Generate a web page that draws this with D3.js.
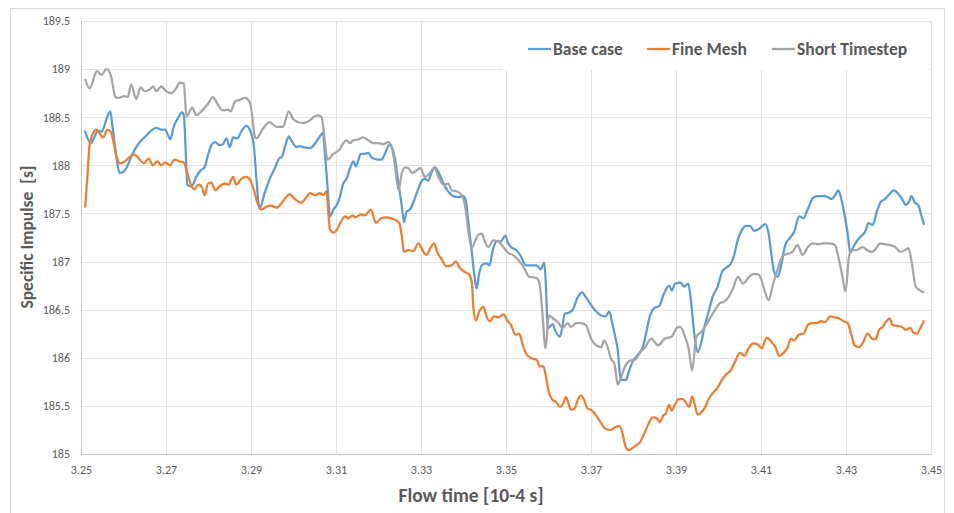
<!DOCTYPE html>
<html>
<head>
<meta charset="utf-8">
<script src="https://cdn.jsdelivr.net/npm/d3@7"></script>
<style>
  body { margin: 0; background: #fff; }
  svg { display: block; }
  text { font-family: Carlito, Calibri, "Liberation Sans", sans-serif; fill: #595959; }
</style>
</head>
<body>
<div id="chart"></div>
<script>
// Flow time [10-4 s] / specific impulse [s]
const baseCase = [
  [3.2510,188.35],[3.2523,188.23],[3.2532,188.30],[3.2540,188.36],[3.2549,188.35],[3.2560,188.48],[3.2569,188.56],[3.2575,188.37],
  [3.2583,188.09],[3.2591,187.92],[3.2599,187.93],[3.2609,187.99],[3.2618,188.09],[3.2630,188.19],[3.2642,188.26],[3.2654,188.31],
  [3.2665,188.36],[3.2677,188.39],[3.2689,188.37],[3.2698,188.37],[3.2705,188.31],[3.2710,188.27],[3.2718,188.40],[3.2728,188.49],
  [3.2738,188.55],[3.2742,188.52],[3.2746,188.19],[3.2750,187.80],[3.2760,187.78],[3.2771,187.88],[3.2782,187.95],[3.2791,187.98],
  [3.2799,188.11],[3.2807,188.21],[3.2816,188.24],[3.2826,188.21],[3.2834,188.22],[3.2842,188.28],[3.2850,188.19],[3.2858,188.29],
  [3.2868,188.28],[3.2877,188.35],[3.2889,188.41],[3.2899,188.35],[3.2907,188.19],[3.2913,187.85],[3.2920,187.55],[3.2932,187.71],
  [3.2944,187.86],[3.2956,187.97],[3.2966,188.07],[3.2973,188.09],[3.2981,188.21],[3.2989,188.30],[3.2996,188.25],[3.3007,188.19],
  [3.3014,188.20],[3.3023,188.19],[3.3039,188.18],[3.3051,188.23],[3.3062,188.30],[3.3069,188.34],[3.3074,188.12],[3.3080,187.78],
  [3.3086,187.47],[3.3094,187.54],[3.3102,187.59],[3.3109,187.67],[3.3117,187.81],[3.3125,187.86],[3.3133,187.97],[3.3141,188.04],
  [3.3147,187.99],[3.3153,188.06],[3.3158,188.12],[3.3168,188.12],[3.3176,188.13],[3.3184,188.08],[3.3198,188.06],[3.3207,188.06],
  [3.3215,188.12],[3.3225,188.21],[3.3231,188.19],[3.3239,188.06],[3.3247,187.81],[3.3255,187.57],[3.3260,187.41],[3.3266,187.52],
  [3.3274,187.54],[3.3284,187.64],[3.3294,187.76],[3.3302,187.84],[3.3309,187.86],[3.3317,187.84],[3.3325,187.93],[3.3333,187.98],
  [3.3341,187.93],[3.3353,187.81],[3.3364,187.73],[3.3376,187.68],[3.3388,187.67],[3.3400,187.68],[3.3406,187.62],[3.3411,187.43],
  [3.3419,187.12],[3.3425,186.88],[3.3431,186.72],[3.3437,186.88],[3.3445,186.97],[3.3455,186.98],[3.3461,186.96],[3.3469,187.12],
  [3.3478,187.21],[3.3488,187.21],[3.3498,187.27],[3.3505,187.19],[3.3512,187.15],[3.3524,187.12],[3.3533,187.07],[3.3547,186.96],
  [3.3559,186.96],[3.3571,186.96],[3.3582,186.92],[3.3590,186.99],[3.3594,186.74],[3.3598,186.31],[3.3602,186.32],[3.3610,186.35],
  [3.3615,186.29],[3.3627,186.22],[3.3639,186.46],[3.3649,186.47],[3.3657,186.50],[3.3669,186.63],[3.3679,186.68],[3.3688,186.63],
  [3.3700,186.55],[3.3712,186.48],[3.3724,186.44],[3.3734,186.43],[3.3743,186.48],[3.3750,186.36],[3.3757,186.22],[3.3763,186.08],
  [3.3770,185.77],[3.3775,185.77],[3.3782,185.77],[3.3790,185.87],[3.3798,185.96],[3.3810,186.03],[3.3822,186.11],[3.3829,186.24],
  [3.3839,186.44],[3.3850,186.52],[3.3861,186.54],[3.3870,186.65],[3.3884,186.75],[3.3890,186.70],[3.3898,186.77],[3.3912,186.78],
  [3.3919,186.74],[3.3929,186.77],[3.3935,186.60],[3.3943,186.25],[3.3951,186.06],[3.3959,186.15],[3.3967,186.32],[3.3978,186.50],
  [3.3986,186.63],[3.3998,186.74],[3.4008,186.89],[3.4016,186.93],[3.4029,186.98],[3.4037,187.07],[3.4045,187.22],[3.4053,187.31],
  [3.4065,187.37],[3.4074,187.37],[3.4084,187.32],[3.4096,187.34],[3.4110,187.39],[3.4118,187.29],[3.4124,187.09],[3.4131,186.89],
  [3.4139,186.84],[3.4147,186.95],[3.4157,187.17],[3.4167,187.24],[3.4178,187.31],[3.4190,187.47],[3.4200,187.45],[3.4210,187.54],
  [3.4222,187.66],[3.4233,187.68],[3.4249,187.68],[3.4257,187.67],[3.4265,187.65],[3.4273,187.68],[3.4282,187.74],[3.4288,187.67],
  [3.4296,187.50],[3.4304,187.29],[3.4310,187.09],[3.4316,187.14],[3.4325,187.21],[3.4335,187.26],[3.4345,187.31],[3.4353,187.40],
  [3.4363,187.38],[3.4372,187.51],[3.4382,187.62],[3.4392,187.65],[3.4402,187.70],[3.4412,187.74],[3.4422,187.71],[3.4432,187.65],
  [3.4441,187.59],[3.4448,187.62],[3.4454,187.68],[3.4461,187.62],[3.4471,187.58],[3.4476,187.50],[3.4483,187.39]
];

const fineMesh = [
  [3.2510,187.57],[3.2516,187.95],[3.2520,188.21],[3.2528,188.33],[3.2536,188.37],[3.2544,188.33],[3.2552,188.29],[3.2562,188.37],
  [3.2570,188.35],[3.2578,188.21],[3.2585,188.07],[3.2593,188.02],[3.2603,188.04],[3.2615,188.09],[3.2626,188.11],[3.2638,188.06],
  [3.2648,188.02],[3.2659,188.07],[3.2669,188.00],[3.2680,188.04],[3.2689,188.00],[3.2698,188.03],[3.2709,188.00],[3.2720,188.06],
  [3.2732,188.04],[3.2742,188.03],[3.2748,187.95],[3.2756,187.83],[3.2766,187.75],[3.2777,187.80],[3.2785,187.77],[3.2791,187.69],
  [3.2799,187.81],[3.2807,187.82],[3.2816,187.74],[3.2826,187.78],[3.2838,187.81],[3.2847,187.80],[3.2858,187.88],[3.2865,187.80],
  [3.2877,187.86],[3.2889,187.88],[3.2899,187.84],[3.2907,187.74],[3.2916,187.60],[3.2924,187.54],[3.2936,187.57],[3.2948,187.58],
  [3.2960,187.56],[3.2971,187.60],[3.2981,187.66],[3.2991,187.70],[3.3001,187.66],[3.3009,187.63],[3.3018,187.61],[3.3029,187.66],
  [3.3039,187.71],[3.3051,187.69],[3.3062,187.71],[3.3070,187.69],[3.3078,187.73],[3.3081,187.57],[3.3086,187.33],[3.3094,187.30],
  [3.3102,187.33],[3.3111,187.41],[3.3121,187.47],[3.3129,187.45],[3.3139,187.48],[3.3145,187.46],[3.3159,187.49],[3.3168,187.48],
  [3.3182,187.54],[3.3194,187.40],[3.3206,187.45],[3.3218,187.46],[3.3229,187.45],[3.3241,187.43],[3.3249,187.40],[3.3255,187.26],
  [3.3260,187.10],[3.3270,187.12],[3.3282,187.11],[3.3294,187.19],[3.3303,187.12],[3.3313,187.07],[3.3322,187.14],[3.3331,187.19],
  [3.3338,187.10],[3.3349,187.02],[3.3360,186.95],[3.3372,186.96],[3.3382,187.00],[3.3392,186.93],[3.3404,186.89],[3.3414,186.86],
  [3.3420,186.77],[3.3423,186.53],[3.3429,186.39],[3.3437,186.48],[3.3447,186.53],[3.3455,186.42],[3.3462,186.38],[3.3472,186.43],
  [3.3482,186.42],[3.3494,186.45],[3.3504,186.38],[3.3512,186.34],[3.3522,186.24],[3.3531,186.25],[3.3541,186.11],[3.3551,186.02],
  [3.3563,185.99],[3.3572,185.98],[3.3580,185.91],[3.3588,185.91],[3.3594,185.80],[3.3600,185.66],[3.3608,185.57],[3.3618,185.54],
  [3.3627,185.49],[3.3635,185.53],[3.3641,185.59],[3.3648,185.51],[3.3653,185.46],[3.3661,185.47],[3.3669,185.56],[3.3676,185.61],
  [3.3684,185.56],[3.3692,185.47],[3.3700,185.46],[3.3712,185.40],[3.3724,185.32],[3.3735,185.26],[3.3747,185.25],[3.3757,185.28],
  [3.3767,185.29],[3.3775,185.20],[3.3781,185.08],[3.3789,185.04],[3.3797,185.06],[3.3806,185.09],[3.3815,185.12],[3.3825,185.21],
  [3.3836,185.32],[3.3845,185.38],[3.3855,185.37],[3.3862,185.33],[3.3870,185.40],[3.3876,185.42],[3.3884,185.51],[3.3890,185.45],
  [3.3898,185.52],[3.3906,185.57],[3.3916,185.57],[3.3924,185.53],[3.3931,185.49],[3.3938,185.60],[3.3943,185.53],[3.3951,185.41],
  [3.3959,185.43],[3.3969,185.49],[3.3978,185.58],[3.3988,185.64],[3.3998,185.69],[3.4008,185.77],[3.4016,185.82],[3.4029,185.87],
  [3.4039,185.96],[3.4051,186.05],[3.4061,186.02],[3.4071,186.10],[3.4082,186.15],[3.4092,186.14],[3.4102,186.10],[3.4113,186.21],
  [3.4124,186.17],[3.4134,186.11],[3.4143,186.02],[3.4153,186.05],[3.4163,186.11],[3.4170,186.20],[3.4178,186.18],[3.4189,186.24],
  [3.4200,186.25],[3.4210,186.34],[3.4220,186.36],[3.4230,186.36],[3.4241,186.38],[3.4251,186.37],[3.4263,186.43],[3.4273,186.42],
  [3.4283,186.41],[3.4294,186.38],[3.4304,186.36],[3.4312,186.25],[3.4320,186.13],[3.4330,186.11],[3.4339,186.15],[3.4351,186.25],
  [3.4361,186.20],[3.4369,186.19],[3.4378,186.29],[3.4386,186.32],[3.4394,186.37],[3.4402,186.41],[3.4410,186.34],[3.4422,186.33],
  [3.4432,186.32],[3.4441,186.29],[3.4451,186.31],[3.4459,186.26],[3.4467,186.25],[3.4475,186.31],[3.4483,186.38]
];

const shortTimestep = [
  [3.2510,188.89],[3.2520,188.80],[3.2538,188.98],[3.2548,188.94],[3.2560,189.00],[3.2571,188.92],[3.2581,188.71],[3.2587,188.70],
  [3.2603,188.72],[3.2610,188.71],[3.2618,188.84],[3.2630,188.69],[3.2640,188.81],[3.2650,188.77],[3.2662,188.79],[3.2670,188.82],
  [3.2677,188.77],[3.2689,188.82],[3.2698,188.78],[3.2712,188.75],[3.2724,188.80],[3.2732,188.86],[3.2742,188.85],[3.2748,188.51],
  [3.2762,188.60],[3.2771,188.52],[3.2783,188.56],[3.2799,188.64],[3.2810,188.71],[3.2822,188.63],[3.2834,188.57],[3.2846,188.58],
  [3.2852,188.56],[3.2862,188.66],[3.2873,188.68],[3.2885,188.70],[3.2897,188.66],[3.2902,188.54],[3.2909,188.30],[3.2913,188.28],
  [3.2928,188.38],[3.2944,188.45],[3.2960,188.40],[3.2975,188.40],[3.2989,188.56],[3.2999,188.48],[3.3010,188.45],[3.3023,188.44],
  [3.3039,188.47],[3.3050,188.51],[3.3058,188.52],[3.3066,188.50],[3.3070,188.40],[3.3080,188.06],[3.3094,188.12],[3.3102,188.14],
  [3.3109,188.17],[3.3117,188.23],[3.3125,188.26],[3.3133,188.23],[3.3140,188.26],[3.3153,188.27],[3.3164,188.29],[3.3176,188.26],
  [3.3188,188.23],[3.3200,188.23],[3.3211,188.22],[3.3223,188.24],[3.3231,188.19],[3.3239,187.99],[3.3247,187.74],[3.3255,187.92],
  [3.3262,187.98],[3.3270,187.97],[3.3280,187.92],[3.3290,187.95],[3.3299,187.97],[3.3309,187.88],[3.3321,187.92],[3.3331,187.98],
  [3.3341,187.88],[3.3353,187.80],[3.3364,187.81],[3.3372,187.74],[3.3384,187.73],[3.3396,187.69],[3.3404,187.57],[3.3411,187.33],
  [3.3419,187.14],[3.3427,187.21],[3.3435,187.28],[3.3443,187.29],[3.3450,187.21],[3.3458,187.15],[3.3470,187.22],[3.3482,187.21],
  [3.3494,187.15],[3.3505,187.09],[3.3516,187.07],[3.3532,187.00],[3.3543,186.93],[3.3555,186.84],[3.3571,186.83],[3.3579,186.77],
  [3.3585,186.50],[3.3593,186.10],[3.3601,186.44],[3.3610,186.41],[3.3622,186.37],[3.3633,186.31],[3.3645,186.36],[3.3653,186.32],
  [3.3665,186.36],[3.3676,186.36],[3.3688,186.34],[3.3700,186.20],[3.3712,186.13],[3.3724,186.11],[3.3731,186.18],[3.3739,186.11],
  [3.3747,185.99],[3.3755,185.94],[3.3763,185.72],[3.3771,185.80],[3.3780,185.91],[3.3792,185.97],[3.3804,185.98],[3.3815,186.05],
  [3.3827,186.11],[3.3842,186.20],[3.3858,186.13],[3.3874,186.20],[3.3890,186.22],[3.3902,186.31],[3.3910,186.32],[3.3921,186.22],
  [3.3929,186.11],[3.3938,185.87],[3.3948,186.22],[3.3960,186.27],[3.3968,186.32],[3.3980,186.41],[3.3992,186.50],[3.4004,186.57],
  [3.4011,186.58],[3.4022,186.62],[3.4034,186.72],[3.4046,186.84],[3.4058,186.77],[3.4070,186.83],[3.4081,186.87],[3.4093,186.87],
  [3.4101,186.81],[3.4109,186.69],[3.4118,186.60],[3.4128,186.76],[3.4140,186.93],[3.4151,187.06],[3.4174,187.10],[3.4186,187.17],
  [3.4198,187.07],[3.4210,187.15],[3.4222,187.19],[3.4234,187.18],[3.4246,187.19],[3.4262,187.19],[3.4274,187.17],[3.4282,187.05],
  [3.4290,186.88],[3.4299,186.69],[3.4307,187.05],[3.4313,187.12],[3.4325,187.12],[3.4339,187.15],[3.4349,187.12],[3.4361,187.10],
  [3.4373,187.15],[3.4380,187.19],[3.4392,187.18],[3.4404,187.17],[3.4416,187.15],[3.4428,187.10],[3.4439,187.12],[3.4447,187.14],
  [3.4455,186.98],[3.4464,186.74],[3.4474,186.70],[3.4482,186.68]
];

const seriesNames = ["Base case", "Fine Mesh", "Short Timestep"];
const seriesColors = ["#5b9bd5", "#ed7d31", "#a5a5a5"];
const xTicks = [3.25, 3.27, 3.29, 3.31, 3.33, 3.35, 3.37, 3.39, 3.41, 3.43, 3.45];
const yTicks = [185, 185.5, 186, 186.5, 187, 187.5, 188, 188.5, 189, 189.5];

const width = 954, height = 513;
const margin = {top: 21, right: 23, bottom: 59, left: 81};

const svg = d3.select("#chart").append("svg")
  .attr("width", width)
  .attr("height", height);

// outer chart frame
svg.append("rect")
  .attr("x", 10.5).attr("y", 8.5)
  .attr("width", 934).attr("height", 520)
  .attr("fill", "none")
  .attr("stroke", "#d9d9d9");

const x = d3.scaleLinear().domain([3.25, 3.45]).range([margin.left, width - margin.right]);
const y = d3.scaleLinear().domain([185, 189.5]).range([height - margin.bottom, margin.top]);

// grid
const grid = svg.append("g").attr("stroke", "#e3e3e3").attr("stroke-width", 1);
grid.selectAll(".hg").data(yTicks).join("line")
  .attr("x1", x(3.25)).attr("x2", x(3.45))
  .attr("y1", d => Math.round(y(d)) + 0.5).attr("y2", d => Math.round(y(d)) + 0.5);
grid.selectAll(".vg").data(xTicks).join("line")
  .attr("x1", d => Math.round(x(d)) + 0.5).attr("x2", d => Math.round(x(d)) + 0.5)
  .attr("y1", y(185)).attr("y2", y(189.5));

// axis lines
svg.append("line")
  .attr("x1", Math.round(x(3.25)) + 0.5).attr("x2", Math.round(x(3.25)) + 0.5)
  .attr("y1", y(185)).attr("y2", y(189.5))
  .attr("stroke", "#c8c8c8");
svg.append("line")
  .attr("x1", x(3.25)).attr("x2", x(3.45))
  .attr("y1", Math.round(y(185)) + 0.5).attr("y2", Math.round(y(185)) + 0.5)
  .attr("stroke", "#c8c8c8");

// tick labels
const yAxis = svg.append("g")
  .attr("transform", `translate(${margin.left},0)`)
  .call(d3.axisLeft(y).tickValues(yTicks).tickSize(0).tickPadding(11).tickFormat(d => String(d)));
yAxis.select(".domain").remove();
yAxis.selectAll("text").attr("font-size", 12).attr("fill", "#595959")
  .style("font-family", "Carlito, Calibri, 'Liberation Sans', sans-serif");

const xAxis = svg.append("g")
  .attr("transform", `translate(0,${height - margin.bottom})`)
  .call(d3.axisBottom(x).tickValues(xTicks).tickSize(0).tickPadding(11).tickFormat(d3.format(".2f")));
xAxis.select(".domain").remove();
xAxis.selectAll("text").attr("font-size", 12).attr("fill", "#595959")
  .style("font-family", "Carlito, Calibri, 'Liberation Sans', sans-serif");

// lines
const line = d3.line()
  .x(d => x(d[0]))
  .y(d => y(d[1]))
  .curve(d3.curveMonotoneX);

const allSeries = [baseCase, fineMesh, shortTimestep];
svg.append("g").selectAll("path")
  .data(allSeries)
  .join("path")
  .attr("d", line)
  .attr("fill", "none")
  .attr("stroke", (d, i) => seriesColors[i])
  .attr("stroke-width", 2.25)
  .attr("stroke-linejoin", "round")
  .attr("stroke-linecap", "round");

// legend box
const legend = svg.append("g");
legend.append("rect")
  .attr("x", 503).attr("y", 23)
  .attr("width", 426).attr("height", 47)
  .attr("fill", "#fff");

const legendX = [528, 647, 772];
seriesNames.forEach((name, i) => {
  legend.append("line")
    .attr("x1", legendX[i]).attr("x2", legendX[i] + 23)
    .attr("y1", 49).attr("y2", 49)
    .attr("stroke", seriesColors[i])
    .attr("stroke-width", 2.25);
  legend.append("text")
    .attr("x", legendX[i] + 25)
    .attr("y", 55)
    .attr("font-size", 17.5)
    .attr("font-weight", "bold")
    .text(name);
});

// axis titles
svg.append("text")
  .attr("x", 471)
  .attr("y", 502)
  .attr("text-anchor", "middle")
  .attr("font-size", 19.5)
  .attr("font-weight", "bold")
  .text("Flow time [10-4 s]");

svg.append("text")
  .attr("transform", "translate(33,237) rotate(-90)")
  .attr("text-anchor", "middle")
  .attr("font-size", 17.5)
  .attr("font-weight", "bold")
  .style("white-space", "pre")
  .text("Specific Impulse  [s]");
</script>
</body>
</html>
